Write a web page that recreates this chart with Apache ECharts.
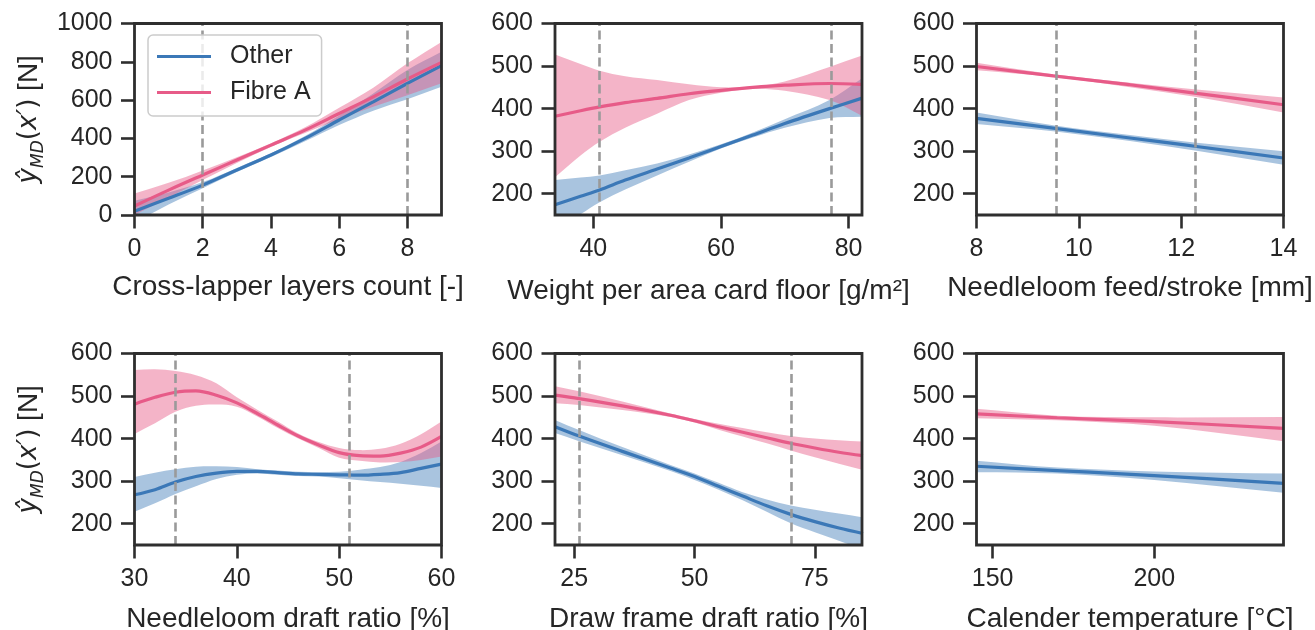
<!DOCTYPE html>
<html>
<head>
<meta charset="utf-8">
<script src="https://cdn.jsdelivr.net/npm/echarts@6/dist/echarts.min.js"></script>
<style>html,body{margin:0;padding:0;background:#fff}#c{width:1315px;height:630px}</style>
</head>
<body>
<div id="c"></div>
<script>
// ---------------- data ----------------
const groupNames = ['Other', 'Fibre A'];

// Panel 1: Cross-lapper layers count
const p1X = [0, 1, 2, 3, 4, 5, 6, 7, 8, 9];
const p1OtherMid = [20, 87, 156, 235, 313, 400, 496, 591, 687, 780];
const p1OtherLo  = [-40, 55, 140, 224, 303, 385, 470, 545, 605, 670];
const p1OtherHi  = [75, 118, 172, 246, 322, 412, 520, 635, 757, 852];
const p1FibreMid = [47, 130, 209, 287, 365, 443, 530, 617, 710, 797];
const p1FibreLo  = [0, 92, 183, 272, 355, 428, 500, 565, 625, 688];
const p1FibreHi  = [112, 168, 233, 302, 375, 458, 560, 665, 792, 904];
const p1XTicks = [0, 2, 4, 6, 8];
const p1YTicks = [0, 200, 400, 600, 800, 1000];
const p1Dashed = [2, 8];

// Panel 2: Weight per area card floor
const p2X = [34, 38, 41, 45, 50, 55, 60, 65, 70, 77, 82];
const p2OtherMid = [174, 194, 209, 232, 258, 284, 311, 338, 365, 400, 424];
const p2OtherLo  = [115, 152, 180, 210, 243, 275, 306, 332, 355, 378, 381];
const p2OtherHi  = [232, 238, 243, 255, 271, 292, 316, 344, 375, 420, 470];
const p2FibreMid = [382, 395, 404, 414, 424, 435, 443, 450, 455, 459, 457];
const p2FibreLo  = [239, 290, 322, 355, 388, 420, 437, 446, 442, 420, 384];
const p2FibreHi  = [527, 505, 489, 476, 467, 457, 450, 452, 464, 498, 524];
const p2XTicks = [40, 60, 80];
const p2Dashed = [41, 77.3];

// Panel 3: Needleloom feed/stroke
const p3X = [8, 9.5, 11, 12.3, 14];
const p3OtherMid = [377, 354, 331, 311, 284];
const p3OtherLo  = [364, 347, 324, 301, 268];
const p3OtherHi  = [391, 361, 338, 320, 300];
const p3FibreMid = [499, 477, 456, 436, 409];
const p3FibreLo  = [490, 474, 450, 427, 391];
const p3FibreHi  = [508, 481, 461, 445, 426];
const p3XTicks = [8, 10, 12, 14];
const p3Dashed = [9.55, 12.27];

// Panel 4: Needleloom draft ratio
const p4X = [30, 32, 34, 36, 38, 40, 42, 44, 46, 48, 50, 52, 54, 56, 58, 60];
const p4OtherMid = [268, 280, 298, 311, 319, 323, 323, 320, 317, 316, 315, 314, 316, 320, 330, 340];
const p4OtherLo  = [228, 248, 270, 288, 305, 315, 318, 315, 312, 311, 307, 302, 298, 294, 289, 284];
const p4OtherHi  = [310, 320, 328, 334, 335, 333, 328, 325, 322, 321, 322, 327, 333, 345, 366, 393];
const p4FibreMid = [481, 497, 509, 512, 502, 484, 459, 432, 406, 385, 367, 360, 359, 366, 380, 405];
const p4FibreLo  = [411, 436, 463, 477, 480, 475, 452, 425, 400, 378, 355, 348, 344, 345, 350, 358];
const p4FibreHi  = [561, 563, 559, 549, 530, 497, 468, 440, 412, 392, 378, 373, 376, 388, 410, 440];
const p4XTicks = [30, 40, 50, 60];
const p4Dashed = [34, 51];

// Panel 5: Draw frame draft ratio
const p5X = [21, 26, 35, 45, 50, 55, 60, 65, 70, 75, 80, 85];
const p5OtherMid = [428, 406, 370, 331, 311, 288, 265, 242, 222, 205, 190, 177];
const p5OtherLo  = [413, 394, 361, 324, 303, 280, 255, 228, 201, 180, 160, 140];
const p5OtherHi  = [444, 420, 380, 338, 318, 296, 274, 257, 243, 233, 224, 215];
const p5FibreMid = [502, 494, 477, 455, 442, 428, 415, 402, 389, 378, 368, 360];
const p5FibreLo  = [483, 479, 467, 451, 438, 421, 405, 389, 372, 356, 341, 326];
const p5FibreHi  = [523, 511, 487, 459, 446, 435, 425, 415, 406, 400, 396, 393];
const p5XTicks = [25, 50, 75];
const p5Dashed = [26, 70];

// Panel 6: Calender temperature
const p6X = [145, 170, 200, 240];
const p6OtherMid = [335, 325, 313, 295];
const p6OtherLo  = [321, 318, 303, 273];
const p6OtherHi  = [348, 332, 323, 318];
const p6FibreMid = [458, 449, 440, 424];
const p6FibreLo  = [448, 443, 430, 394];
const p6FibreHi  = [470, 454, 450, 451];
const p6XTicks = [150, 200];
const p6Dashed = [];

const yTicksSmall = [200, 300, 400, 500, 600];
const xNames = [
  'Cross-lapper layers count [-]',
  'Weight per area card floor [g/m²]',
  'Needleloom feed/stroke [mm]',
  'Needleloom draft ratio [%]',
  'Draw frame draft ratio [%]',
  'Calender temperature [°C]'
];
const yName = '{m|ŷ}{s|MD}{r|(}{m|x′}{r|)}{t| [N]}';

// ---------------- styling ----------------
const BLUE = '#3b78b7', PINK = '#e75b88';
const BLUE_BAND = 'rgba(59,120,183,0.44)', PINK_BAND = 'rgba(231,91,136,0.46)';
const TXT = '#262626', SPINE = '#2e2e2e';
const FONT = '"Liberation Sans", Arial, sans-serif';

const panels = [
  {x: p1X, o: [p1OtherLo, p1OtherMid, p1OtherHi], f: [p1FibreLo, p1FibreMid, p1FibreHi], xr: [0, 9], yr: [0, 1000], xt: p1XTicks, yt: p1YTicks, d: p1Dashed, gap: 58},
  {x: p2X, o: [p2OtherLo, p2OtherMid, p2OtherHi], f: [p2FibreLo, p2FibreMid, p2FibreHi], xr: [34, 82.1], yr: [150, 600], xt: p2XTicks, yt: yTicksSmall, d: p2Dashed, gap: 62},
  {x: p3X, o: [p3OtherLo, p3OtherMid, p3OtherHi], f: [p3FibreLo, p3FibreMid, p3FibreHi], xr: [8, 14], yr: [150, 600], xt: p3XTicks, yt: yTicksSmall, d: p3Dashed, gap: 59},
  {x: p4X, o: [p4OtherLo, p4OtherMid, p4OtherHi], f: [p4FibreLo, p4FibreMid, p4FibreHi], xr: [30, 60], yr: [150, 600], xt: p4XTicks, yt: yTicksSmall, d: p4Dashed, gap: 60},
  {x: p5X, o: [p5OtherLo, p5OtherMid, p5OtherHi], f: [p5FibreLo, p5FibreMid, p5FibreHi], xr: [21, 84.8], yr: [150, 600], xt: p5XTicks, yt: yTicksSmall, d: p5Dashed, gap: 60},
  {x: p6X, o: [p6OtherLo, p6OtherMid, p6OtherHi], f: [p6FibreLo, p6FibreMid, p6FibreHi], xr: [145, 240], yr: [150, 600], xt: p6XTicks, yt: yTicksSmall, d: p6Dashed, gap: 60}
];

const LEFTS = [134.5, 555, 976.5], TOPS = [23.5, 353.5], W = 307, H = 191.5;

// smooth path through pixel points (Catmull-Rom style, x-parameterised)
function curvePath(pts, start) {
  const n = pts.length;
  const m = pts.map(function (p, k) {
    if (k === 0) return (pts[1][1] - pts[0][1]) / (pts[1][0] - pts[0][0]);
    if (k === n - 1) return (pts[n - 1][1] - pts[n - 2][1]) / (pts[n - 1][0] - pts[n - 2][0]);
    return (pts[k + 1][1] - pts[k - 1][1]) / (pts[k + 1][0] - pts[k - 1][0]);
  });
  let s = (start ? 'M' : 'L') + pts[0][0] + ' ' + pts[0][1];
  for (let k = 0; k < n - 1; k++) {
    const h = pts[k + 1][0] - pts[k][0];
    s += ' C' + (pts[k][0] + h / 3) + ' ' + (pts[k][1] + m[k] * h / 3) + ' ' +
         (pts[k + 1][0] - h / 3) + ' ' + (pts[k + 1][1] - m[k + 1] * h / 3) + ' ' +
         pts[k + 1][0] + ' ' + pts[k + 1][1];
  }
  return s;
}

function bandSeries(gi, xs, lo, hi, color, name) {
  return {
    type: 'custom', name: name, xAxisIndex: gi, yAxisIndex: gi, clip: true, silent: true,
    data: xs.map(function (x, i) { return [x, lo[i], hi[i]]; }),
    encode: {x: 0, y: [1, 2]},
    renderItem: function (params, api) {
      if (params.dataIndex !== 0) return null;
      const up = xs.map(function (x, i) { return api.coord([x, hi[i]]); });
      const dn = xs.map(function (x, i) { return api.coord([x, lo[i]]); }).reverse();
      const d = curvePath(up, true) + ' ' + curvePath(dn, false) + ' Z';
      return {type: 'path', shape: {pathData: d}, style: {fill: color, stroke: null}};
    }
  };
}

function lineSeries(gi, xs, mid, color, name, dashed) {
  const s = {
    type: 'line', name: name, xAxisIndex: gi, yAxisIndex: gi,
    data: xs.map(function (x, i) { return [x, mid[i]]; }),
    smooth: 1 / 3, symbol: 'none', showSymbol: false, clip: true,
    lineStyle: {color: color, width: 3.2}, itemStyle: {color: color}
  };
  if (dashed && dashed.length) {
    s.markLine = {
      silent: true, symbol: ['none', 'none'], label: {show: false}, animation: false,
      lineStyle: {type: [9, 4.5], color: '#9a9a9a', width: 2.6},
      emphasis: {disabled: true},
      data: dashed.map(function (v) { return {xAxis: v}; })
    };
  }
  return s;
}

function plainNumber(v) { return String(v); }

const grids = [], xAxes = [], yAxes = [], series = [];
panels.forEach(function (p, i) {
  const col = i % 3, row = Math.floor(i / 3);
  grids.push({left: LEFTS[col], top: TOPS[row], width: W, height: H, show: true,
    borderColor: SPINE, borderWidth: 2.8, backgroundColor: 'transparent', z: 10,
    containLabel: false, outerBoundsMode: 'none'});
  xAxes.push({
    type: 'value', gridIndex: i, min: p.xr[0], max: p.xr[1],
    name: xNames[i], nameLocation: 'middle', nameGap: p.gap, nameMoveOverlap: false,
    nameTextStyle: {fontSize: 28, color: TXT, fontFamily: FONT, lineHeight: 28},
    axisLine: {show: false},
    axisTick: {show: true, length: 13.5, lineStyle: {color: SPINE, width: 2.6}, customValues: p.xt},
    axisLabel: {customValues: p.xt, formatter: plainNumber, margin: 21.5, fontSize: 25, color: TXT, fontFamily: FONT, lineHeight: 25},
    splitLine: {show: false}
  });
  const ya = {
    type: 'value', gridIndex: i, min: p.yr[0], max: p.yr[1],
    axisLine: {show: false},
    axisTick: {show: true, length: 13.5, lineStyle: {color: SPINE, width: 2.6}, customValues: p.yt},
    axisLabel: {customValues: p.yt, formatter: plainNumber, margin: 22, fontSize: 25, color: TXT, fontFamily: FONT},
    splitLine: {show: false}
  };
  if (col === 0) {
    ya.name = yName;
    ya.nameLocation = 'middle';
    ya.nameGap = 87;
    ya.nameMoveOverlap = false;
    ya.nameTextStyle = {
      color: TXT,
      rich: {
        m: {fontFamily: '"DejaVu Sans"', fontStyle: 'italic', fontSize: 26, color: TXT, verticalAlign: 'middle', lineHeight: 36},
        s: {fontFamily: '"DejaVu Sans"', fontStyle: 'italic', fontSize: 17, color: TXT, verticalAlign: 'bottom', lineHeight: 17},
        r: {fontFamily: '"DejaVu Sans"', fontSize: 26, color: TXT, verticalAlign: 'middle', lineHeight: 36},
        t: {fontFamily: FONT, fontSize: 28, color: TXT, verticalAlign: 'middle', lineHeight: 36}
      }
    };
  }
  yAxes.push(ya);
  series.push(bandSeries(i, p.x, p.o[0], p.o[2], BLUE_BAND, 'Other band'));
  series.push(lineSeries(i, p.x, p.o[1], BLUE, groupNames[0], null));
  series.push(bandSeries(i, p.x, p.f[0], p.f[2], PINK_BAND, 'Fibre A band'));
  series.push(lineSeries(i, p.x, p.f[1], PINK, groupNames[1], p.d));
});

const chart = echarts.init(document.getElementById('c'), null, {renderer: 'canvas'});
chart.setOption({
  animation: false,
  backgroundColor: '#ffffff',
  grid: grids, xAxis: xAxes, yAxis: yAxes, series: series,
  legend: {
    data: groupNames, orient: 'vertical', left: 148, top: 35,
    icon: 'rect', itemWidth: 54, itemHeight: 3, itemGap: 11,
    padding: [9, 11, 11, 9],
    backgroundColor: 'rgba(255,255,255,0.8)', borderColor: '#cccccc', borderWidth: 1.5, borderRadius: 5,
    textStyle: {fontSize: 25, color: TXT, fontFamily: FONT, padding: [0, 0, 0, 14], lineHeight: 25},
    selectedMode: false, z: 12
  }
});
</script>
</body>
</html>
